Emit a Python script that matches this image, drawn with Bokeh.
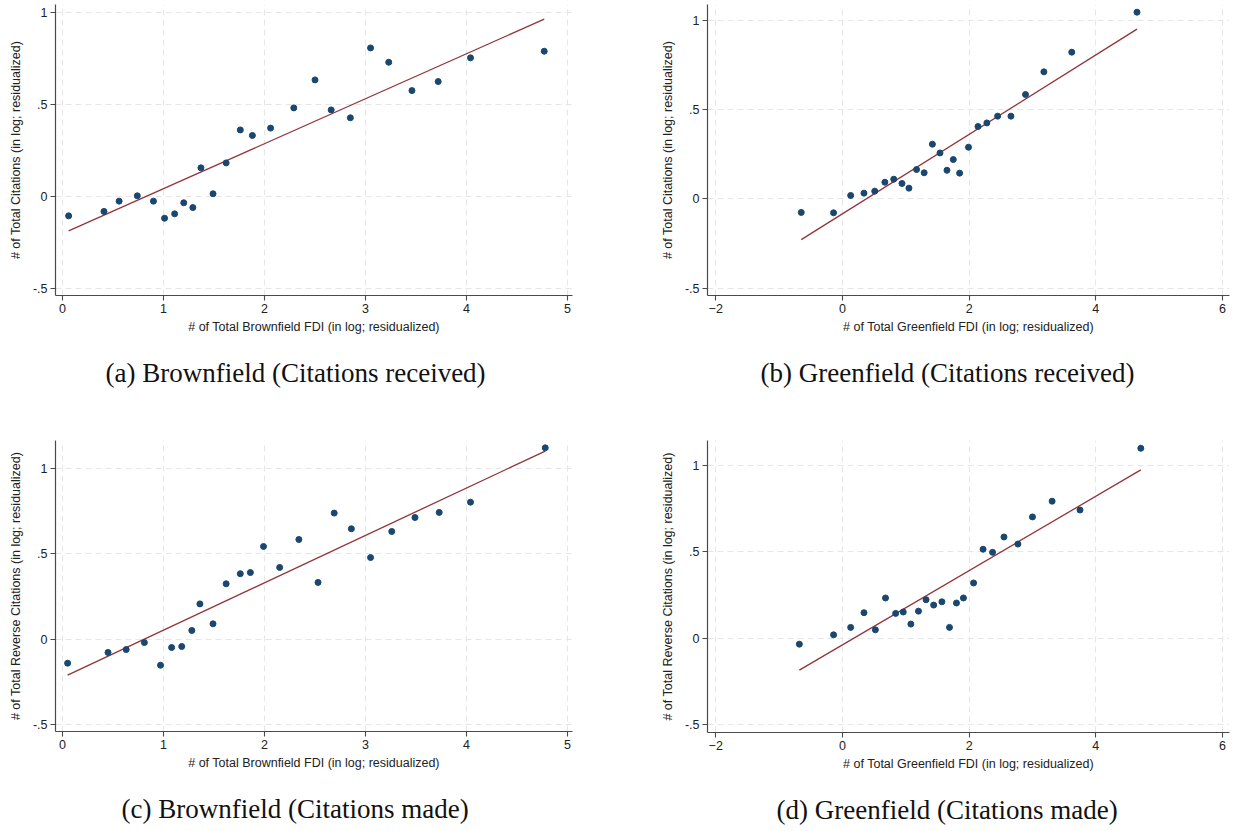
import numpy as np
from bokeh.plotting import figure
from bokeh.layouts import column, row
from bokeh.models import FixedTicker, Title, Range1d
from bokeh.embed import file_html
from bokeh.resources import INLINE

# ---------------- data ----------------
# (a) Brownfield FDI vs citations received
a_x = [0.06, 0.41, 0.56, 0.74, 0.90, 1.01, 1.11, 1.20, 1.29, 1.37, 1.49, 1.62, 1.76,
       1.88, 2.06, 2.29, 2.50, 2.66, 2.85, 3.05, 3.23, 3.46, 3.72, 4.04, 4.77]
a_y = [-0.107, -0.083, -0.027, 0.002, -0.027, -0.120, -0.096, -0.036, -0.062, 0.154,
       0.013, 0.181, 0.360, 0.330, 0.370, 0.480, 0.632, 0.469, 0.426, 0.806, 0.728,
       0.574, 0.623, 0.752, 0.788]
a_fit = [-0.2036, 0.2445]  # intercept, slope

# (b) Greenfield FDI vs citations received
b_x = [-0.65, -0.14, 0.13, 0.34, 0.51, 0.67, 0.81, 0.94, 1.05, 1.17, 1.29, 1.42, 1.54,
       1.65, 1.75, 1.85, 1.99, 2.14, 2.28, 2.45, 2.66, 2.89, 3.18, 3.62, 4.65]
b_y = [-0.076, -0.078, 0.019, 0.032, 0.043, 0.093, 0.110, 0.086, 0.060, 0.164, 0.146,
       0.306, 0.257, 0.160, 0.220, 0.144, 0.289, 0.405, 0.425, 0.463, 0.463, 0.584,
       0.711, 0.821, 1.045]
b_fit = [-0.0835, 0.2223]

# (c) Brownfield FDI vs citations made
c_x = [0.05, 0.45, 0.63, 0.81, 0.97, 1.08, 1.18, 1.28, 1.36, 1.49, 1.62, 1.76, 1.86,
       1.99, 2.15, 2.34, 2.53, 2.69, 2.86, 3.05, 3.26, 3.49, 3.73, 4.04, 4.78]
c_y = [-0.141, -0.078, -0.061, -0.020, -0.153, -0.049, -0.043, 0.051, 0.207, 0.090,
       0.325, 0.384, 0.391, 0.544, 0.421, 0.585, 0.333, 0.740, 0.648, 0.479, 0.632,
       0.714, 0.744, 0.804, 1.123]
c_fit = [-0.225, 0.278]

# (d) Greenfield FDI vs citations made
d_x = [-0.68, -0.14, 0.13, 0.34, 0.52, 0.68, 0.84, 0.96, 1.08, 1.20, 1.32, 1.44, 1.57,
       1.69, 1.80, 1.91, 2.07, 2.22, 2.37, 2.55, 2.77, 3.00, 3.31, 3.75, 4.71]
d_y = [-0.035, 0.019, 0.062, 0.147, 0.048, 0.232, 0.143, 0.151, 0.081, 0.156, 0.222,
       0.191, 0.210, 0.062, 0.203, 0.232, 0.319, 0.514, 0.496, 0.585, 0.544, 0.701,
       0.792, 0.741, 1.098]
d_fit = [-0.039, 0.2149]

brown_xticks = [0, 1, 2, 3, 4, 5]
green_xticks = [-2, 0, 2, 4, 6]
y_ticks = [-0.5, 0, 0.5, 1]
y_tick_labels = {-0.5: "-.5", 0: "0", 0.5: ".5", 1: "1"}

x_label_brown = "# of Total Brownfield FDI (in log; residualized)"
x_label_green = "# of Total Greenfield FDI (in log; residualized)"
y_label_recv = "# of Total Citations (in log; residualized)"
y_label_made = "# of Total Reverse Citations (in log; residualized)"

captions = ["(a) Brownfield (Citations received)", "(b) Greenfield (Citations received)",
            "(c) Brownfield (Citations made)", "(d) Greenfield (Citations made)"]

NAVY = "#1a476f"
MAROON = "#90353b"
SANS = "Liberation Sans"
SERIF = "Liberation Serif"


def panel(xs, ys, fit, xticks, xr, yr, xlabel, ylabel, caption, cap_offset,
          bl, br, bt, bb, fw, fh):
    p = figure(frame_width=fw, frame_height=fh,
               x_range=Range1d(*xr), y_range=Range1d(*yr),
               output_backend="svg", toolbar_location=None,
               min_border_left=bl, min_border_top=bt, min_border_right=br,
               min_border_bottom=bb)
    p.outline_line_color = None
    p.background_fill_color = "white"
    p.border_fill_color = "white"

    for ax in (p.xaxis[0], p.yaxis[0]):
        ax.axis_line_color = "#4a4a4a"
        ax.axis_line_width = 1.2
        ax.major_tick_line_color = "#4a4a4a"
        ax.major_tick_line_width = 1.1
        ax.major_tick_out = 5
        ax.major_tick_in = 0
        ax.minor_tick_line_color = None
        ax.major_label_text_font = SANS
        ax.major_label_text_font_size = "12.5px"
        ax.major_label_text_color = "#222222"
        ax.axis_label_text_font = SANS
        ax.axis_label_text_font_size = "12.5px"
        ax.axis_label_text_font_style = "normal"
        ax.axis_label_text_color = "#222222"
        ax.major_label_standoff = 3

    p.xaxis.ticker = FixedTicker(ticks=xticks)
    p.yaxis.ticker = FixedTicker(ticks=y_ticks)
    p.yaxis.major_label_overrides = y_tick_labels
    p.yaxis.major_label_orientation = "horizontal"
    p.xaxis.axis_label = xlabel
    p.yaxis.axis_label = ylabel
    p.xaxis.axis_label_standoff = 4
    p.yaxis.axis_label_standoff = 7

    for g in (p.xgrid[0], p.ygrid[0]):
        g.grid_line_color = "#e6e6e6"
        g.grid_line_dash = "6 4"
        g.grid_line_width = 1

    x0, x1 = min(xs), max(xs)
    fx = np.array([x0, x1])
    fy = fit[0] + fit[1] * fx
    p.line(fx, fy, line_color=MAROON, line_width=1.3)
    p.scatter(xs, ys, size=6, fill_color=NAVY, line_color=NAVY, marker="circle")

    t = Title(text=caption, align="left", offset=cap_offset, text_font=SERIF,
              text_font_size="27px", text_font_style="normal", text_color="#111111",
              standoff=38)
    p.add_layout(t, "below")
    return p


fa = panel(a_x, a_y, a_fit, brown_xticks, (-0.07, 5.05), (-0.54, 1.042),
           x_label_brown, y_label_recv, captions[0], 50,
           55, 44, 4, 135, 517, 291)
fb = panel(b_x, b_y, b_fit, green_xticks, (-2.13, 6.11), (-0.541, 1.088),
           x_label_green, y_label_recv, captions[1], 53,
           91, 4, 4, 135, 522, 291)
fc = panel(c_x, c_y, c_fit, brown_xticks, (-0.07, 5.05), (-0.542, 1.166),
           x_label_brown, y_label_made, captions[2], 66,
           55, 44, 10, 100, 517, 291)
fd = panel(d_x, d_y, d_fit, green_xticks, (-2.13, 6.11), (-0.546, 1.143),
           x_label_green, y_label_made, captions[3], 69,
           91, 4, 10, 99, 522, 292)

layout = column(row(fa, fb, spacing=0), row(fc, fd, spacing=0), spacing=0)

open("out.html", "w").write(file_html(layout, INLINE))
